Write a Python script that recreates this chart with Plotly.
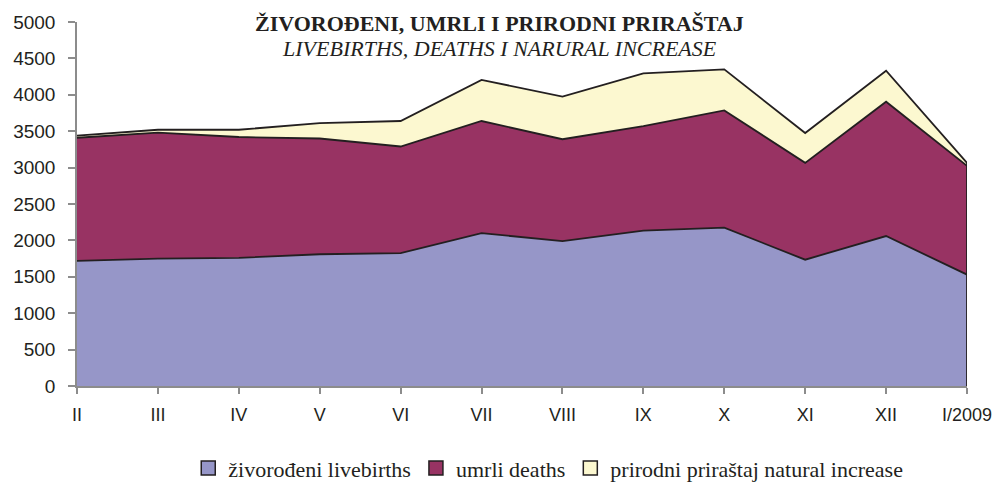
import plotly.graph_objects as go

categories = ["II", "III", "IV", "V", "VI", "VII", "VIII", "IX", "X", "XI", "XII", "I/2009"]
livebirths = [1720, 1750, 1760, 1810, 1825, 2100, 1990, 2135, 2175, 1735, 2060, 1530]
deaths = [1690, 1730, 1660, 1590, 1465, 1540, 1400, 1435, 1610, 1330, 1845, 1495]
natural_increase = [30, 40, 100, 210, 350, 565, 585, 725, 565, 410, 425, 40]
y_ticks = [0, 500, 1000, 1500, 2000, 2500, 3000, 3500, 4000, 4500, 5000]

names = ["živorođeni livebirths", "umrli deaths", "prirodni priraštaj natural increase"]
colors = ["#9696C8", "#983363", "#FCF8D0"]
series = [livebirths, deaths, natural_increase]
outline = "#231f20"
serif = "Liberation Serif, Times New Roman, serif"

fig = go.Figure()
for name, vals, col in zip(names, series, colors):
    fig.add_trace(go.Scatter(
        x=categories, y=vals, name=name, mode="lines", stackgroup="one",
        fillcolor=col, line=dict(color=outline, width=1.8),
        showlegend=False, hoverinfo="skip"))

# closing right edge of the stacked area
total_last = livebirths[-1] + deaths[-1] + natural_increase[-1]
fig.add_trace(go.Scatter(x=[categories[-1], categories[-1]], y=[0, total_last],
                         mode="lines", line=dict(color=outline, width=1.8),
                         showlegend=False, hoverinfo="skip"))

# legend entries
for name, col in zip(names, colors):
    fig.add_trace(go.Scatter(
        x=[None], y=[None], name=name, mode="markers",
        marker=dict(symbol="square", size=14, color=col, line=dict(color=outline, width=1.5))))

fig.update_layout(
    width=996, height=483,
    margin=dict(l=77, r=29, t=22, b=97, autoexpand=False),
    plot_bgcolor="white", paper_bgcolor="white",
    font=dict(family="Liberation Sans, Arial", size=18, color="#231f20"),
    showlegend=True,
    legend=dict(orientation="h", x=0.125, xanchor="left", y=-0.226, yanchor="middle",
                font=dict(family=serif, size=22, color="#231f20"),
                itemwidth=30, tracegroupgap=0, traceorder="normal",
                bgcolor="rgba(0,0,0,0)", borderwidth=0),
    xaxis=dict(type="category", range=[0, len(categories) - 1], showgrid=False,
               showline=True, linecolor="#8c8c8c", linewidth=1.5,
               ticks="outside", ticklen=6, tickcolor="#8c8c8c", tickwidth=1.5,
               tickfont=dict(size=18), ticklabelstandoff=6, zeroline=False),
    yaxis=dict(range=[0, 5000], tickvals=y_ticks, showgrid=False,
               showline=True, linecolor="#8c8c8c", linewidth=1.5,
               ticks="outside", ticklen=7, tickcolor="#8c8c8c", tickwidth=1.5,
               tickfont=dict(size=19), ticklabelstandoff=9, zeroline=False),
    annotations=[
        dict(text="<b>ŽIVOROĐENI, UMRLI I PRIRODNI PRIRAŠTAJ</b>", xref="paper", yref="paper",
             x=0.475, y=0.997, xanchor="center", yanchor="middle", showarrow=False,
             font=dict(family=serif, size=22, color="#231f20")),
        dict(text="<i>LIVEBIRTHS, DEATHS I NARURAL INCREASE</i>", xref="paper", yref="paper",
             x=0.475, y=0.926, xanchor="center", yanchor="middle", showarrow=False,
             font=dict(family=serif, size=22, color="#231f20")),
    ],
)

fig.write_html("out.html", config={"displayModeBar": False},
               post_script="document.body.style.margin='0';document.body.style.overflow='hidden';")
